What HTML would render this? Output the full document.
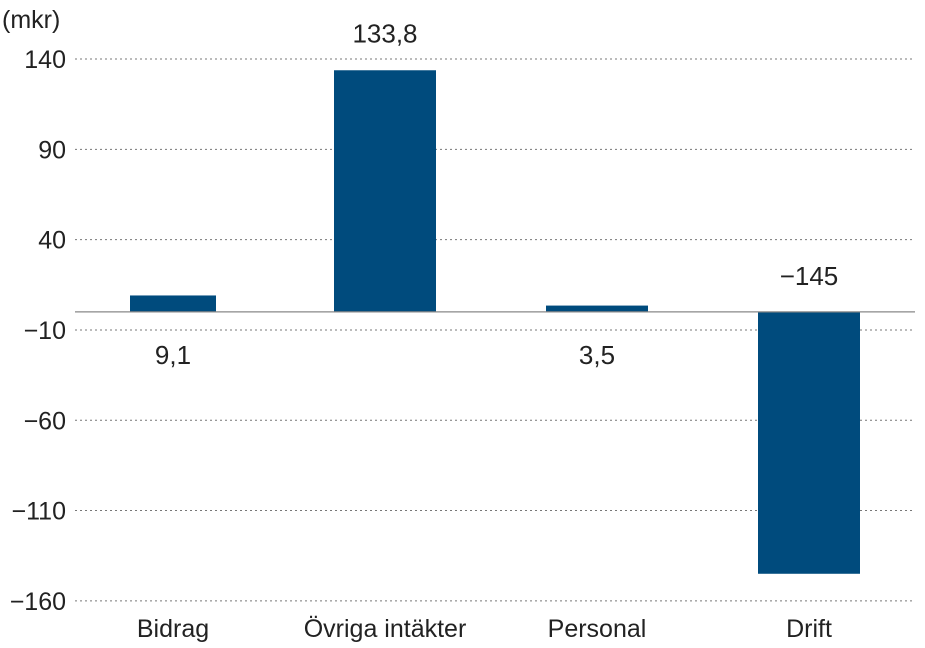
<!DOCTYPE html>
<html><head><meta charset="utf-8"><style>
body{margin:0;background:#fff;}
svg{display:block;font-family:"Liberation Sans",sans-serif;}
</style></head><body>
<svg id="chart" width="925" height="648">
<text x="2" y="28" font-size="25" fill="#222">(mkr)</text>
<g id="grid"></g><g id="bars"></g><g id="labels"></g>
</svg>
<script>
const categories = ["Bidrag","Övriga intäkter","Personal","Drift"];
const values = [9.1, 133.8, 3.5, -145];
const valueLabels = ["9,1","133,8","3,5","\u2212145"];
const ticks = [140, 90, 40, -10, -60, -110, -160];
const tickLabels = ["140","90","40","\u221210","\u221260","\u2212110","\u2212160"];
const NS="http://www.w3.org/2000/svg";
const y0=311.9, pxPerUnit=1.806;
function y(v){return y0 - v*pxPerUnit;}
const left=67, band=212;
function xc(i){return left + band*(i+0.5);}
const grid=document.getElementById('grid'), bars=document.getElementById('bars'), labels=document.getElementById('labels');
function mk(tag,attrs,parent){const e=document.createElementNS(NS,tag);for(const k in attrs)e.setAttribute(k,attrs[k]);parent.appendChild(e);return e;}
ticks.forEach((t,i)=>{
  const l=mk('line',{x1:75,x2:915,y1:y(t),y2:y(t),stroke:'#777','stroke-width':1,'stroke-dasharray':'2,3'},grid);
  
  
  const tx=mk('text',{x:66,y:y(t)+9,'font-size':25,'text-anchor':'end',fill:'#222'},grid);
  tx.textContent=tickLabels[i];
  
  
});
values.forEach((v,i)=>{
  const w=i===0?86:102;
  const r=mk('rect',{x:xc(i)-w/2,y:Math.min(y(v),y0),width:w,height:Math.abs(y(v)-y0),fill:'#004b7d'},bars);
  
  
  let ly;
  if(v>20) ly=y(v)-28;
  else if(v<0) ly=y0-27;
  else ly=y0+52;
  const t=mk('text',{x:xc(i),y:ly,'font-size':26,'text-anchor':'middle',fill:'#222'},labels);
  t.textContent=valueLabels[i];
  
  
  const c=mk('text',{x:xc(i),y:637,'font-size':25,'text-anchor':'middle',fill:'#222'},labels);
  c.textContent=categories[i];
  
  
});
const z=mk('line',{x1:75,x2:915,y1:y0,y2:y0,stroke:'#888','stroke-width':1.3},labels);


</script>
</body></html>
